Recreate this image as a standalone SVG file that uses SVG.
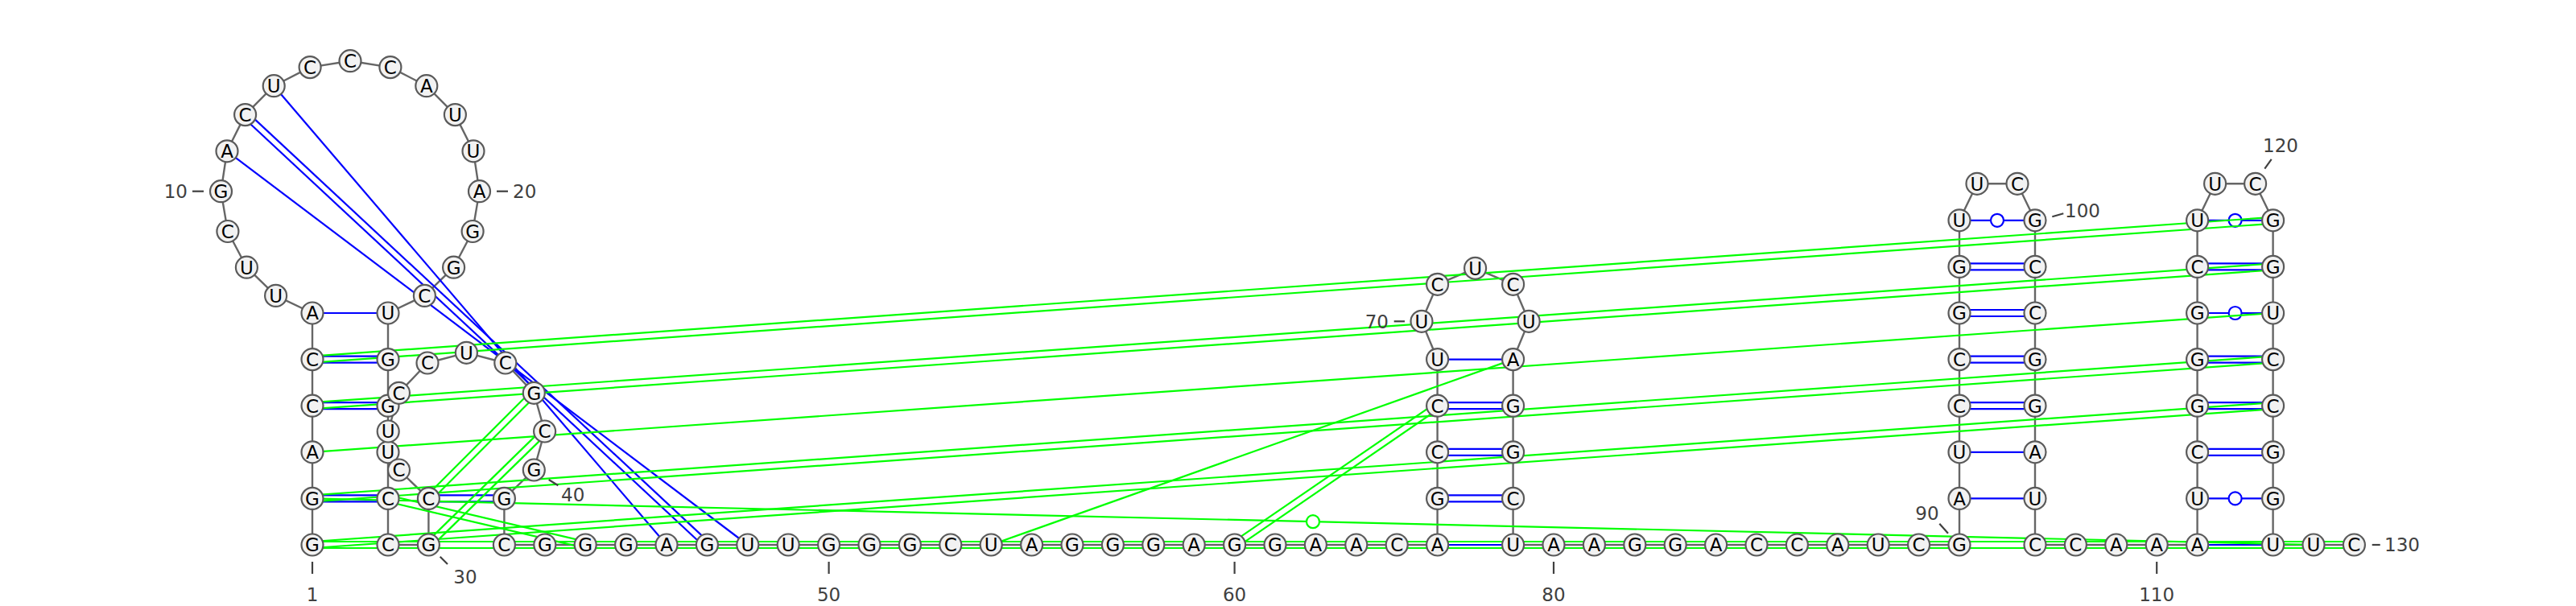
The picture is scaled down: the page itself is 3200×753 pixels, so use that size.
<svg xmlns="http://www.w3.org/2000/svg" width="3200" height="753" viewBox="0 0 3200 753">
<style>
.bb{stroke:#666;stroke-width:2.4;fill:none;stroke-linejoin:round}
.b1{stroke:#0000ff;stroke-width:2.2;fill:none}
.g1{stroke:#00ff00;stroke-width:2.2;fill:none}
.wb{stroke:#0000ff;stroke-width:2.2;fill:#fff}
.wg{stroke:#00ff00;stroke-width:2.2;fill:#fff}
.nc{fill:#f2f2f2;stroke:#5a5a5a;stroke-width:2.2}
.nt{font-family:"DejaVu Sans",sans-serif;font-size:23px;text-anchor:middle;fill:#000}
.lb{font-family:"DejaVu Sans",sans-serif;font-size:23px;fill:#404040}
.tk{stroke:#404040;stroke-width:2.2}
</style>
<rect width="3200" height="753" fill="#fff"/>
<g id="connectors">
<polyline class="bb" points="388,677 388,619.4 388,561.8 388,504.2 388,446.6 388,389 342.6,367.4 306.4,332.2 282.9,287.5 274.5,237.7 282,187.8 304.6,142.6 340.2,106.7 385.1,83.6 435,75.7 484.9,83.6 529.8,106.7 565.4,142.6 588,187.8 595.5,237.7 587.1,287.5 563.6,332.2 527.4,367.4 482,389 482,446.6 482,504.2 482,561.8 482,619.4 482,677 532.4,677 532.4,619.4 495.5,584 482.2,536 495.5,488.3 531,451 579.4,438.3 627.8,451 663.3,488.3 676.6,536 663.3,584 626.4,619.4 626.4,677 1785.6,677 1785.6,446.6 1766,399.3 1785.6,353.3 1832.6,333.3 1879.6,353.3 1899.2,399.3 1879.6,446.6 1879.6,677 2434,677 2434,273.8 2456,228.3 2506,228.3 2528,273.8 2528,677 2729.6,677 2729.6,273.8 2751.6,228.3 2801.6,228.3 2823.6,273.8 2823.6,677 2924.4,677"/>
<g id="pairs-blue">
<line class="b1" x1="388" y1="389" x2="482" y2="389"/>
<line class="b1" x1="388" y1="442.6" x2="482" y2="442.6"/><line class="b1" x1="388" y1="450.6" x2="482" y2="450.6"/>
<line class="b1" x1="388" y1="500.2" x2="482" y2="500.2"/><line class="b1" x1="388" y1="508.2" x2="482" y2="508.2"/>
<line class="b1" x1="388" y1="615.4" x2="482" y2="615.4"/><line class="b1" x1="388" y1="623.4" x2="482" y2="623.4"/>
<line class="b1" x1="532.4" y1="615.4" x2="626.4" y2="615.4"/><line class="b1" x1="532.4" y1="623.4" x2="626.4" y2="623.4"/>
<line class="b1" x1="282" y1="187.8" x2="928.8" y2="677"/>
<line class="b1" x1="301.87" y1="145.53" x2="875.67" y2="679.93"/><line class="b1" x1="307.33" y1="139.67" x2="881.13" y2="674.07"/>
<line class="b1" x1="340.2" y1="106.7" x2="828" y2="677"/>
<line class="b1" x1="1785.6" y1="677" x2="1879.6" y2="677"/>
<line class="b1" x1="1785.6" y1="615.4" x2="1879.6" y2="615.4"/><line class="b1" x1="1785.6" y1="623.4" x2="1879.6" y2="623.4"/>
<line class="b1" x1="1785.6" y1="557.8" x2="1879.6" y2="557.8"/><line class="b1" x1="1785.6" y1="565.8" x2="1879.6" y2="565.8"/>
<line class="b1" x1="1785.6" y1="500.2" x2="1879.6" y2="500.2"/><line class="b1" x1="1785.6" y1="508.2" x2="1879.6" y2="508.2"/>
<line class="b1" x1="1785.6" y1="446.6" x2="1879.6" y2="446.6"/>
<line class="b1" x1="2434" y1="619.4" x2="2528" y2="619.4"/>
<line class="b1" x1="2434" y1="561.8" x2="2528" y2="561.8"/>
<line class="b1" x1="2434" y1="500.2" x2="2528" y2="500.2"/><line class="b1" x1="2434" y1="508.2" x2="2528" y2="508.2"/>
<line class="b1" x1="2434" y1="442.6" x2="2528" y2="442.6"/><line class="b1" x1="2434" y1="450.6" x2="2528" y2="450.6"/>
<line class="b1" x1="2434" y1="385" x2="2528" y2="385"/><line class="b1" x1="2434" y1="393" x2="2528" y2="393"/>
<line class="b1" x1="2434" y1="327.4" x2="2528" y2="327.4"/><line class="b1" x1="2434" y1="335.4" x2="2528" y2="335.4"/>
<line class="b1" x1="2434" y1="273.8" x2="2528" y2="273.8"/>
<line class="b1" x1="2729.6" y1="677" x2="2823.6" y2="677"/>
<line class="b1" x1="2729.6" y1="619.4" x2="2823.6" y2="619.4"/>
<line class="b1" x1="2729.6" y1="557.8" x2="2823.6" y2="557.8"/><line class="b1" x1="2729.6" y1="565.8" x2="2823.6" y2="565.8"/>
<line class="b1" x1="2729.6" y1="500.2" x2="2823.6" y2="500.2"/><line class="b1" x1="2729.6" y1="508.2" x2="2823.6" y2="508.2"/>
<line class="b1" x1="2729.6" y1="442.6" x2="2823.6" y2="442.6"/><line class="b1" x1="2729.6" y1="450.6" x2="2823.6" y2="450.6"/>
<line class="b1" x1="2729.6" y1="389" x2="2823.6" y2="389"/>
<line class="b1" x1="2729.6" y1="327.4" x2="2823.6" y2="327.4"/><line class="b1" x1="2729.6" y1="335.4" x2="2823.6" y2="335.4"/>
<line class="b1" x1="2729.6" y1="273.8" x2="2823.6" y2="273.8"/>
<circle class="wb" cx="2481" cy="273.8" r="8"/>
<circle class="wb" cx="2776.6" cy="619.4" r="8"/>
<circle class="wb" cx="2776.6" cy="389" r="8"/>
<circle class="wb" cx="2776.6" cy="273.8" r="8"/>
</g>
<g id="pairs-green">
<line class="g1" x1="388" y1="673" x2="2924.4" y2="673"/><line class="g1" x1="388" y1="681" x2="2924.4" y2="681"/>
<line class="g1" x1="388.28" y1="680.99" x2="2823.88" y2="508.19"/><line class="g1" x1="387.72" y1="673.01" x2="2823.32" y2="500.21"/>
<line class="g1" x1="388.28" y1="623.39" x2="2823.88" y2="450.59"/><line class="g1" x1="387.72" y1="615.41" x2="2823.32" y2="442.61"/>
<line class="g1" x1="388" y1="561.8" x2="2823.6" y2="389"/>
<line class="g1" x1="388.28" y1="508.19" x2="2823.88" y2="335.39"/><line class="g1" x1="387.72" y1="500.21" x2="2823.32" y2="327.41"/>
<line class="g1" x1="388.28" y1="450.59" x2="2823.88" y2="277.79"/><line class="g1" x1="387.72" y1="442.61" x2="2823.32" y2="269.81"/>
<line class="g1" x1="481.09" y1="623.29" x2="726.29" y2="680.89"/><line class="g1" x1="482.92" y1="615.51" x2="728.12" y2="673.11"/>
<line class="g1" x1="535.23" y1="622.23" x2="666.13" y2="491.13"/><line class="g1" x1="529.57" y1="616.57" x2="660.47" y2="485.47"/>
<line class="g1" x1="535.2" y1="679.86" x2="679.4" y2="538.86"/><line class="g1" x1="529.6" y1="674.14" x2="673.8" y2="533.14"/>
<line class="g1" x1="1231.2" y1="677" x2="1879.6" y2="446.6"/>
<line class="g1" x1="1535.86" y1="680.3" x2="1787.86" y2="507.5"/><line class="g1" x1="1531.34" y1="673.7" x2="1783.34" y2="500.9"/>
<line class="g1" x1="388" y1="619.4" x2="2874" y2="677"/>
<circle class="wg" cx="1631" cy="648.2" r="8"/>
</g>
</g>
<g id="nodes">
<g id="n1"><circle class="nc" cx="388" cy="677" r="13.5"/><text class="nt" x="388" y="685.3">G</text></g>
<g id="n2"><circle class="nc" cx="388" cy="619.4" r="13.5"/><text class="nt" x="388" y="627.7">G</text></g>
<g id="n3"><circle class="nc" cx="388" cy="561.8" r="13.5"/><text class="nt" x="388" y="570.1">A</text></g>
<g id="n4"><circle class="nc" cx="388" cy="504.2" r="13.5"/><text class="nt" x="388" y="512.5">C</text></g>
<g id="n5"><circle class="nc" cx="388" cy="446.6" r="13.5"/><text class="nt" x="388" y="454.9">C</text></g>
<g id="n6"><circle class="nc" cx="388" cy="389" r="13.5"/><text class="nt" x="388" y="397.3">A</text></g>
<g id="n7"><circle class="nc" cx="342.6" cy="367.4" r="13.5"/><text class="nt" x="342.6" y="375.7">U</text></g>
<g id="n8"><circle class="nc" cx="306.4" cy="332.2" r="13.5"/><text class="nt" x="306.4" y="340.5">U</text></g>
<g id="n9"><circle class="nc" cx="282.9" cy="287.5" r="13.5"/><text class="nt" x="282.9" y="295.8">C</text></g>
<g id="n10"><circle class="nc" cx="274.5" cy="237.7" r="13.5"/><text class="nt" x="274.5" y="246">G</text></g>
<g id="n11"><circle class="nc" cx="282" cy="187.8" r="13.5"/><text class="nt" x="282" y="196.1">A</text></g>
<g id="n12"><circle class="nc" cx="304.6" cy="142.6" r="13.5"/><text class="nt" x="304.6" y="150.9">C</text></g>
<g id="n13"><circle class="nc" cx="340.2" cy="106.7" r="13.5"/><text class="nt" x="340.2" y="115">U</text></g>
<g id="n14"><circle class="nc" cx="385.1" cy="83.6" r="13.5"/><text class="nt" x="385.1" y="91.9">C</text></g>
<g id="n15"><circle class="nc" cx="435" cy="75.7" r="13.5"/><text class="nt" x="435" y="84">C</text></g>
<g id="n16"><circle class="nc" cx="484.9" cy="83.6" r="13.5"/><text class="nt" x="484.9" y="91.9">C</text></g>
<g id="n17"><circle class="nc" cx="529.8" cy="106.7" r="13.5"/><text class="nt" x="529.8" y="115">A</text></g>
<g id="n18"><circle class="nc" cx="565.4" cy="142.6" r="13.5"/><text class="nt" x="565.4" y="150.9">U</text></g>
<g id="n19"><circle class="nc" cx="588" cy="187.8" r="13.5"/><text class="nt" x="588" y="196.1">U</text></g>
<g id="n20"><circle class="nc" cx="595.5" cy="237.7" r="13.5"/><text class="nt" x="595.5" y="246">A</text></g>
<g id="n21"><circle class="nc" cx="587.1" cy="287.5" r="13.5"/><text class="nt" x="587.1" y="295.8">G</text></g>
<g id="n22"><circle class="nc" cx="563.6" cy="332.2" r="13.5"/><text class="nt" x="563.6" y="340.5">G</text></g>
<g id="n23"><circle class="nc" cx="527.4" cy="367.4" r="13.5"/><text class="nt" x="527.4" y="375.7">C</text></g>
<g id="n24"><circle class="nc" cx="482" cy="389" r="13.5"/><text class="nt" x="482" y="397.3">U</text></g>
<g id="n25"><circle class="nc" cx="482" cy="446.6" r="13.5"/><text class="nt" x="482" y="454.9">G</text></g>
<g id="n26"><circle class="nc" cx="482" cy="504.2" r="13.5"/><text class="nt" x="482" y="512.5">G</text></g>
<g id="n27"><circle class="nc" cx="482" cy="561.8" r="13.5"/><text class="nt" x="482" y="570.1">U</text></g>
<g id="n28"><circle class="nc" cx="482" cy="619.4" r="13.5"/><text class="nt" x="482" y="627.7">C</text></g>
<g id="n29"><circle class="nc" cx="482" cy="677" r="13.5"/><text class="nt" x="482" y="685.3">C</text></g>
<g id="n30"><circle class="nc" cx="532.4" cy="677" r="13.5"/><text class="nt" x="532.4" y="685.3">G</text></g>
<g id="n31"><circle class="nc" cx="532.4" cy="619.4" r="13.5"/><text class="nt" x="532.4" y="627.7">C</text></g>
<g id="n32"><circle class="nc" cx="495.5" cy="584" r="13.5"/><text class="nt" x="495.5" y="592.3">C</text></g>
<g id="n33"><circle class="nc" cx="482.2" cy="536" r="13.5"/><text class="nt" x="482.2" y="544.3">U</text></g>
<g id="n34"><circle class="nc" cx="495.5" cy="488.3" r="13.5"/><text class="nt" x="495.5" y="496.6">C</text></g>
<g id="n35"><circle class="nc" cx="531" cy="451" r="13.5"/><text class="nt" x="531" y="459.3">C</text></g>
<g id="n36"><circle class="nc" cx="579.4" cy="438.3" r="13.5"/><text class="nt" x="579.4" y="446.6">U</text></g>
<g id="n37"><circle class="nc" cx="627.8" cy="451" r="13.5"/><text class="nt" x="627.8" y="459.3">C</text></g>
<g id="n38"><circle class="nc" cx="663.3" cy="488.3" r="13.5"/><text class="nt" x="663.3" y="496.6">G</text></g>
<g id="n39"><circle class="nc" cx="676.6" cy="536" r="13.5"/><text class="nt" x="676.6" y="544.3">C</text></g>
<g id="n40"><circle class="nc" cx="663.3" cy="584" r="13.5"/><text class="nt" x="663.3" y="592.3">G</text></g>
<g id="n41"><circle class="nc" cx="626.4" cy="619.4" r="13.5"/><text class="nt" x="626.4" y="627.7">G</text></g>
<g id="n42"><circle class="nc" cx="626.4" cy="677" r="13.5"/><text class="nt" x="626.4" y="685.3">C</text></g>
<g id="n43"><circle class="nc" cx="676.8" cy="677" r="13.5"/><text class="nt" x="676.8" y="685.3">G</text></g>
<g id="n44"><circle class="nc" cx="727.2" cy="677" r="13.5"/><text class="nt" x="727.2" y="685.3">G</text></g>
<g id="n45"><circle class="nc" cx="777.6" cy="677" r="13.5"/><text class="nt" x="777.6" y="685.3">G</text></g>
<g id="n46"><circle class="nc" cx="828" cy="677" r="13.5"/><text class="nt" x="828" y="685.3">A</text></g>
<g id="n47"><circle class="nc" cx="878.4" cy="677" r="13.5"/><text class="nt" x="878.4" y="685.3">G</text></g>
<g id="n48"><circle class="nc" cx="928.8" cy="677" r="13.5"/><text class="nt" x="928.8" y="685.3">U</text></g>
<g id="n49"><circle class="nc" cx="979.2" cy="677" r="13.5"/><text class="nt" x="979.2" y="685.3">U</text></g>
<g id="n50"><circle class="nc" cx="1029.6" cy="677" r="13.5"/><text class="nt" x="1029.6" y="685.3">G</text></g>
<g id="n51"><circle class="nc" cx="1080" cy="677" r="13.5"/><text class="nt" x="1080" y="685.3">G</text></g>
<g id="n52"><circle class="nc" cx="1130.4" cy="677" r="13.5"/><text class="nt" x="1130.4" y="685.3">G</text></g>
<g id="n53"><circle class="nc" cx="1180.8" cy="677" r="13.5"/><text class="nt" x="1180.8" y="685.3">C</text></g>
<g id="n54"><circle class="nc" cx="1231.2" cy="677" r="13.5"/><text class="nt" x="1231.2" y="685.3">U</text></g>
<g id="n55"><circle class="nc" cx="1281.6" cy="677" r="13.5"/><text class="nt" x="1281.6" y="685.3">A</text></g>
<g id="n56"><circle class="nc" cx="1332" cy="677" r="13.5"/><text class="nt" x="1332" y="685.3">G</text></g>
<g id="n57"><circle class="nc" cx="1382.4" cy="677" r="13.5"/><text class="nt" x="1382.4" y="685.3">G</text></g>
<g id="n58"><circle class="nc" cx="1432.8" cy="677" r="13.5"/><text class="nt" x="1432.8" y="685.3">G</text></g>
<g id="n59"><circle class="nc" cx="1483.2" cy="677" r="13.5"/><text class="nt" x="1483.2" y="685.3">A</text></g>
<g id="n60"><circle class="nc" cx="1533.6" cy="677" r="13.5"/><text class="nt" x="1533.6" y="685.3">G</text></g>
<g id="n61"><circle class="nc" cx="1584" cy="677" r="13.5"/><text class="nt" x="1584" y="685.3">G</text></g>
<g id="n62"><circle class="nc" cx="1634.4" cy="677" r="13.5"/><text class="nt" x="1634.4" y="685.3">A</text></g>
<g id="n63"><circle class="nc" cx="1684.8" cy="677" r="13.5"/><text class="nt" x="1684.8" y="685.3">A</text></g>
<g id="n64"><circle class="nc" cx="1735.2" cy="677" r="13.5"/><text class="nt" x="1735.2" y="685.3">C</text></g>
<g id="n65"><circle class="nc" cx="1785.6" cy="677" r="13.5"/><text class="nt" x="1785.6" y="685.3">A</text></g>
<g id="n66"><circle class="nc" cx="1785.6" cy="619.4" r="13.5"/><text class="nt" x="1785.6" y="627.7">G</text></g>
<g id="n67"><circle class="nc" cx="1785.6" cy="561.8" r="13.5"/><text class="nt" x="1785.6" y="570.1">C</text></g>
<g id="n68"><circle class="nc" cx="1785.6" cy="504.2" r="13.5"/><text class="nt" x="1785.6" y="512.5">C</text></g>
<g id="n69"><circle class="nc" cx="1785.6" cy="446.6" r="13.5"/><text class="nt" x="1785.6" y="454.9">U</text></g>
<g id="n70"><circle class="nc" cx="1766" cy="399.3" r="13.5"/><text class="nt" x="1766" y="407.6">U</text></g>
<g id="n71"><circle class="nc" cx="1785.6" cy="353.3" r="13.5"/><text class="nt" x="1785.6" y="361.6">C</text></g>
<g id="n72"><circle class="nc" cx="1832.6" cy="333.3" r="13.5"/><text class="nt" x="1832.6" y="341.6">U</text></g>
<g id="n73"><circle class="nc" cx="1879.6" cy="353.3" r="13.5"/><text class="nt" x="1879.6" y="361.6">C</text></g>
<g id="n74"><circle class="nc" cx="1899.2" cy="399.3" r="13.5"/><text class="nt" x="1899.2" y="407.6">U</text></g>
<g id="n75"><circle class="nc" cx="1879.6" cy="446.6" r="13.5"/><text class="nt" x="1879.6" y="454.9">A</text></g>
<g id="n76"><circle class="nc" cx="1879.6" cy="504.2" r="13.5"/><text class="nt" x="1879.6" y="512.5">G</text></g>
<g id="n77"><circle class="nc" cx="1879.6" cy="561.8" r="13.5"/><text class="nt" x="1879.6" y="570.1">G</text></g>
<g id="n78"><circle class="nc" cx="1879.6" cy="619.4" r="13.5"/><text class="nt" x="1879.6" y="627.7">C</text></g>
<g id="n79"><circle class="nc" cx="1879.6" cy="677" r="13.5"/><text class="nt" x="1879.6" y="685.3">U</text></g>
<g id="n80"><circle class="nc" cx="1930" cy="677" r="13.5"/><text class="nt" x="1930" y="685.3">A</text></g>
<g id="n81"><circle class="nc" cx="1980.4" cy="677" r="13.5"/><text class="nt" x="1980.4" y="685.3">A</text></g>
<g id="n82"><circle class="nc" cx="2030.8" cy="677" r="13.5"/><text class="nt" x="2030.8" y="685.3">G</text></g>
<g id="n83"><circle class="nc" cx="2081.2" cy="677" r="13.5"/><text class="nt" x="2081.2" y="685.3">G</text></g>
<g id="n84"><circle class="nc" cx="2131.6" cy="677" r="13.5"/><text class="nt" x="2131.6" y="685.3">A</text></g>
<g id="n85"><circle class="nc" cx="2182" cy="677" r="13.5"/><text class="nt" x="2182" y="685.3">C</text></g>
<g id="n86"><circle class="nc" cx="2232.4" cy="677" r="13.5"/><text class="nt" x="2232.4" y="685.3">C</text></g>
<g id="n87"><circle class="nc" cx="2282.8" cy="677" r="13.5"/><text class="nt" x="2282.8" y="685.3">A</text></g>
<g id="n88"><circle class="nc" cx="2333.2" cy="677" r="13.5"/><text class="nt" x="2333.2" y="685.3">U</text></g>
<g id="n89"><circle class="nc" cx="2383.6" cy="677" r="13.5"/><text class="nt" x="2383.6" y="685.3">C</text></g>
<g id="n90"><circle class="nc" cx="2434" cy="677" r="13.5"/><text class="nt" x="2434" y="685.3">G</text></g>
<g id="n91"><circle class="nc" cx="2434" cy="619.4" r="13.5"/><text class="nt" x="2434" y="627.7">A</text></g>
<g id="n92"><circle class="nc" cx="2434" cy="561.8" r="13.5"/><text class="nt" x="2434" y="570.1">U</text></g>
<g id="n93"><circle class="nc" cx="2434" cy="504.2" r="13.5"/><text class="nt" x="2434" y="512.5">C</text></g>
<g id="n94"><circle class="nc" cx="2434" cy="446.6" r="13.5"/><text class="nt" x="2434" y="454.9">C</text></g>
<g id="n95"><circle class="nc" cx="2434" cy="389" r="13.5"/><text class="nt" x="2434" y="397.3">G</text></g>
<g id="n96"><circle class="nc" cx="2434" cy="331.4" r="13.5"/><text class="nt" x="2434" y="339.7">G</text></g>
<g id="n97"><circle class="nc" cx="2434" cy="273.8" r="13.5"/><text class="nt" x="2434" y="282.1">U</text></g>
<g id="n98"><circle class="nc" cx="2456" cy="228.3" r="13.5"/><text class="nt" x="2456" y="236.6">U</text></g>
<g id="n99"><circle class="nc" cx="2506" cy="228.3" r="13.5"/><text class="nt" x="2506" y="236.6">C</text></g>
<g id="n100"><circle class="nc" cx="2528" cy="273.8" r="13.5"/><text class="nt" x="2528" y="282.1">G</text></g>
<g id="n101"><circle class="nc" cx="2528" cy="331.4" r="13.5"/><text class="nt" x="2528" y="339.7">C</text></g>
<g id="n102"><circle class="nc" cx="2528" cy="389" r="13.5"/><text class="nt" x="2528" y="397.3">C</text></g>
<g id="n103"><circle class="nc" cx="2528" cy="446.6" r="13.5"/><text class="nt" x="2528" y="454.9">G</text></g>
<g id="n104"><circle class="nc" cx="2528" cy="504.2" r="13.5"/><text class="nt" x="2528" y="512.5">G</text></g>
<g id="n105"><circle class="nc" cx="2528" cy="561.8" r="13.5"/><text class="nt" x="2528" y="570.1">A</text></g>
<g id="n106"><circle class="nc" cx="2528" cy="619.4" r="13.5"/><text class="nt" x="2528" y="627.7">U</text></g>
<g id="n107"><circle class="nc" cx="2528" cy="677" r="13.5"/><text class="nt" x="2528" y="685.3">C</text></g>
<g id="n108"><circle class="nc" cx="2578.4" cy="677" r="13.5"/><text class="nt" x="2578.4" y="685.3">C</text></g>
<g id="n109"><circle class="nc" cx="2628.8" cy="677" r="13.5"/><text class="nt" x="2628.8" y="685.3">A</text></g>
<g id="n110"><circle class="nc" cx="2679.2" cy="677" r="13.5"/><text class="nt" x="2679.2" y="685.3">A</text></g>
<g id="n111"><circle class="nc" cx="2729.6" cy="677" r="13.5"/><text class="nt" x="2729.6" y="685.3">A</text></g>
<g id="n112"><circle class="nc" cx="2729.6" cy="619.4" r="13.5"/><text class="nt" x="2729.6" y="627.7">U</text></g>
<g id="n113"><circle class="nc" cx="2729.6" cy="561.8" r="13.5"/><text class="nt" x="2729.6" y="570.1">C</text></g>
<g id="n114"><circle class="nc" cx="2729.6" cy="504.2" r="13.5"/><text class="nt" x="2729.6" y="512.5">G</text></g>
<g id="n115"><circle class="nc" cx="2729.6" cy="446.6" r="13.5"/><text class="nt" x="2729.6" y="454.9">G</text></g>
<g id="n116"><circle class="nc" cx="2729.6" cy="389" r="13.5"/><text class="nt" x="2729.6" y="397.3">G</text></g>
<g id="n117"><circle class="nc" cx="2729.6" cy="331.4" r="13.5"/><text class="nt" x="2729.6" y="339.7">C</text></g>
<g id="n118"><circle class="nc" cx="2729.6" cy="273.8" r="13.5"/><text class="nt" x="2729.6" y="282.1">U</text></g>
<g id="n119"><circle class="nc" cx="2751.6" cy="228.3" r="13.5"/><text class="nt" x="2751.6" y="236.6">U</text></g>
<g id="n120"><circle class="nc" cx="2801.6" cy="228.3" r="13.5"/><text class="nt" x="2801.6" y="236.6">C</text></g>
<g id="n121"><circle class="nc" cx="2823.6" cy="273.8" r="13.5"/><text class="nt" x="2823.6" y="282.1">G</text></g>
<g id="n122"><circle class="nc" cx="2823.6" cy="331.4" r="13.5"/><text class="nt" x="2823.6" y="339.7">G</text></g>
<g id="n123"><circle class="nc" cx="2823.6" cy="389" r="13.5"/><text class="nt" x="2823.6" y="397.3">U</text></g>
<g id="n124"><circle class="nc" cx="2823.6" cy="446.6" r="13.5"/><text class="nt" x="2823.6" y="454.9">C</text></g>
<g id="n125"><circle class="nc" cx="2823.6" cy="504.2" r="13.5"/><text class="nt" x="2823.6" y="512.5">C</text></g>
<g id="n126"><circle class="nc" cx="2823.6" cy="561.8" r="13.5"/><text class="nt" x="2823.6" y="570.1">G</text></g>
<g id="n127"><circle class="nc" cx="2823.6" cy="619.4" r="13.5"/><text class="nt" x="2823.6" y="627.7">G</text></g>
<g id="n128"><circle class="nc" cx="2823.6" cy="677" r="13.5"/><text class="nt" x="2823.6" y="685.3">U</text></g>
<g id="n129"><circle class="nc" cx="2874" cy="677" r="13.5"/><text class="nt" x="2874" y="685.3">U</text></g>
<g id="n130"><circle class="nc" cx="2924.4" cy="677" r="13.5"/><text class="nt" x="2924.4" y="685.3">C</text></g>
</g>
<g id="numbering">
<line class="tk" x1="388" y1="698" x2="388" y2="713"/><text class="lb" x="388" y="747" text-anchor="middle">1</text>
<line class="tk" x1="239" y1="237.7" x2="253" y2="237.7"/><text class="lb" x="233" y="246" text-anchor="end">10</text>
<line class="tk" x1="617" y1="237.7" x2="631" y2="237.7"/><text class="lb" x="637" y="246">20</text>
<line class="tk" x1="546.7" y1="691.7" x2="556" y2="701"/><text class="lb" x="578" y="725" text-anchor="middle">30</text>
<line class="tk" x1="681.7" y1="596" x2="693.3" y2="603.3"/><text class="lb" x="711.7" y="623" text-anchor="middle">40</text>
<line class="tk" x1="1029.6" y1="698" x2="1029.6" y2="713"/><text class="lb" x="1029.6" y="747" text-anchor="middle">50</text>
<line class="tk" x1="1533.6" y1="698" x2="1533.6" y2="713"/><text class="lb" x="1533.6" y="747" text-anchor="middle">60</text>
<line class="tk" x1="1731.7" y1="399.3" x2="1745" y2="399.3"/><text class="lb" x="1725" y="408" text-anchor="end">70</text>
<line class="tk" x1="1930" y1="698" x2="1930" y2="713"/><text class="lb" x="1930" y="747" text-anchor="middle">80</text>
<line class="tk" x1="2409.3" y1="650.7" x2="2420" y2="662.7"/><text class="lb" x="2394" y="646" text-anchor="middle">90</text>
<line class="tk" x1="2549.3" y1="269.3" x2="2563.3" y2="265.3"/><text class="lb" x="2565" y="270">100</text>
<line class="tk" x1="2679.2" y1="698" x2="2679.2" y2="713"/><text class="lb" x="2679.2" y="747" text-anchor="middle">110</text>
<line class="tk" x1="2813.3" y1="209.6" x2="2821.7" y2="197.9"/><text class="lb" x="2833" y="189" text-anchor="middle">120</text>
<line class="tk" x1="2946.7" y1="677" x2="2956.7" y2="677"/><text class="lb" x="2962" y="685">130</text>
</g>
</svg>
